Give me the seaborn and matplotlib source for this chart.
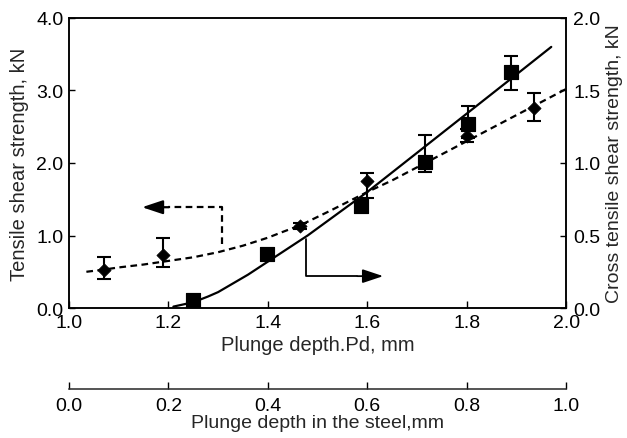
import numpy as np
import pandas as pd
import matplotlib
matplotlib.use('Agg')
import matplotlib.pyplot as plt
import seaborn as sns

# tensile shear strength (left axis, diamonds)
pd_tss = [1.07, 1.19, 1.465, 1.60, 1.80, 1.935]
tss = [0.52, 0.73, 1.13, 1.75, 2.37, 2.76]
tss_lo = [0.12, 0.16, 0.04, 0.23, 0.08, 0.18]
tss_hi = [0.18, 0.24, 0.04, 0.11, 0.10, 0.21]

# cross tensile shear strength (right axis, squares)
pd_cts = [1.25, 1.398, 1.587, 1.716, 1.803, 1.89]
cts = [0.055, 0.37, 0.70, 1.01, 1.27, 1.63]
cts_lo = [0, 0, 0, 0.07, 0.10, 0.13]
cts_hi = [0, 0, 0, 0.18, 0.12, 0.11]

# trend curves
fit_tss_x = [1.035, 1.07, 1.10, 1.15, 1.20, 1.25, 1.30, 1.35, 1.40, 1.43, 1.465,
             1.525, 1.60, 1.65, 1.70, 1.80, 1.90, 2.00]
fit_tss_y = [0.50, 0.53, 0.56, 0.60, 0.65, 0.70, 0.77, 0.86, 0.97, 1.05, 1.14,
             1.34, 1.60, 1.76, 1.94, 2.30, 2.66, 3.02]
fit_cts_x = [1.21, 1.25, 1.28, 1.30, 1.33, 1.36, 1.40, 1.44, 1.48, 1.52, 1.60,
             1.70, 1.80, 1.90, 1.97]
fit_cts_y = [0.01, 0.04, 0.08, 0.11, 0.17, 0.23, 0.32, 0.41, 0.50, 0.60, 0.80,
             1.07, 1.34, 1.61, 1.80]

# arrow elbows (left-axis units)
arrow_left = [(1.308, 0.88), (1.308, 1.39), (1.20, 1.39)]
arrow_left_tip = (1.147, 1.39)
arrow_right = [(1.477, 0.95), (1.477, 0.44), (1.58, 0.44)]
arrow_right_tip = (1.632, 0.44)

sns.set_style('ticks')
plt.rcParams['font.family'] = ['Liberation Sans', 'DejaVu Sans']
plt.rcParams['font.size'] = 14

fig = plt.figure(figsize=(6.27, 4.39), dpi=100)
ax = fig.add_axes([0.110, 0.296, 0.793, 0.661])
ax2 = ax.twinx()

df_tss = pd.DataFrame({'x': pd_tss, 'y': tss})
df_cts = pd.DataFrame({'x': pd_cts, 'y': cts})
fit1 = pd.DataFrame({'x': fit_tss_x, 'y': fit_tss_y})
fit2 = pd.DataFrame({'x': fit_cts_x, 'y': fit_cts_y})

sns.lineplot(data=fit1, x='x', y='y', ax=ax, color='black', lw=1.6, sort=False)
ax.lines[-1].set_dashes([3, 2])
sns.lineplot(data=fit2, x='x', y='y', ax=ax2, color='black', lw=1.6, sort=False)

ax.errorbar(pd_tss, tss, yerr=[tss_lo, tss_hi], fmt='none', ecolor='black',
            elinewidth=1.5, capsize=5, capthick=1.5)
sns.scatterplot(data=df_tss, x='x', y='y', ax=ax, marker='D', s=45,
                color='black', edgecolor='black', zorder=5)

mask = np.array(cts_hi) > 0
ax2.errorbar(np.array(pd_cts)[mask], np.array(cts)[mask],
             yerr=[np.array(cts_lo)[mask], np.array(cts_hi)[mask]], fmt='none',
             ecolor='black', elinewidth=1.5, capsize=5, capthick=1.5)
sns.scatterplot(data=df_cts, x='x', y='y', ax=ax2, marker='s', s=110,
                color='black', edgecolor='black', zorder=5)

# arrows
xs, ys = zip(*arrow_left)
ax.plot(xs, ys, color='black', lw=1.6, dashes=[3, 2])
ax.annotate('', xy=arrow_left_tip, xytext=arrow_left[-1],
            arrowprops=dict(arrowstyle='-|>,head_length=0.9,head_width=0.3',
                            color='black', lw=1.6, shrinkA=0, shrinkB=0))
xs, ys = zip(*arrow_right)
ax.plot(xs, ys, color='black', lw=1.3)
ax.annotate('', xy=arrow_right_tip, xytext=arrow_right[-1],
            arrowprops=dict(arrowstyle='-|>,head_length=0.9,head_width=0.3',
                            color='black', lw=1.3, shrinkA=0, shrinkB=0))

ax.set_xlim(1.0, 2.0)
ax.set_ylim(0, 4.0)
ax2.set_ylim(0, 2.0)
ax.set_xticks(np.arange(1.0, 2.01, 0.2))
ax.set_yticks(np.arange(0, 4.01, 1.0))
ax2.set_yticks(np.arange(0, 2.01, 0.5))
fmt = matplotlib.ticker.FormatStrFormatter('%.1f')
ax.xaxis.set_major_formatter(fmt)
ax.yaxis.set_major_formatter(fmt)
ax2.yaxis.set_major_formatter(fmt)

ax.set_xlabel('Plunge depth.Pd, mm', fontsize=14.5, labelpad=3)
ax.set_ylabel('Tensile shear strength, kN', fontsize=14.5, labelpad=5)
ax2.set_ylabel('Cross tensile shear strength, kN', fontsize=14, labelpad=4)

for a in (ax, ax2):
    for s in a.spines.values():
        s.set_linewidth(1.1)
        s.set_color('black')
ax.tick_params(axis='x', direction='in', length=5, width=1, pad=4, colors='black')
ax.tick_params(axis='y', direction='in', length=4, width=1, pad=4, colors='black')
ax2.tick_params(axis='y', direction='in', length=4, width=1, pad=5, colors='black')

sec = ax.secondary_xaxis(-0.279, functions=(lambda x: x - 1.0, lambda x: x + 1.0))
sec.set_xticks(np.arange(0, 1.01, 0.2))
sec.xaxis.set_major_formatter(matplotlib.ticker.FormatStrFormatter('%.1f'))
sec.tick_params(direction='in', length=5, width=1, pad=6, colors='black')
sec.spines['bottom'].set_linewidth(1.1)
sec.set_xlabel('Plunge depth in the steel,mm', fontsize=14, labelpad=0)

fig.savefig('out.png', dpi=100)
